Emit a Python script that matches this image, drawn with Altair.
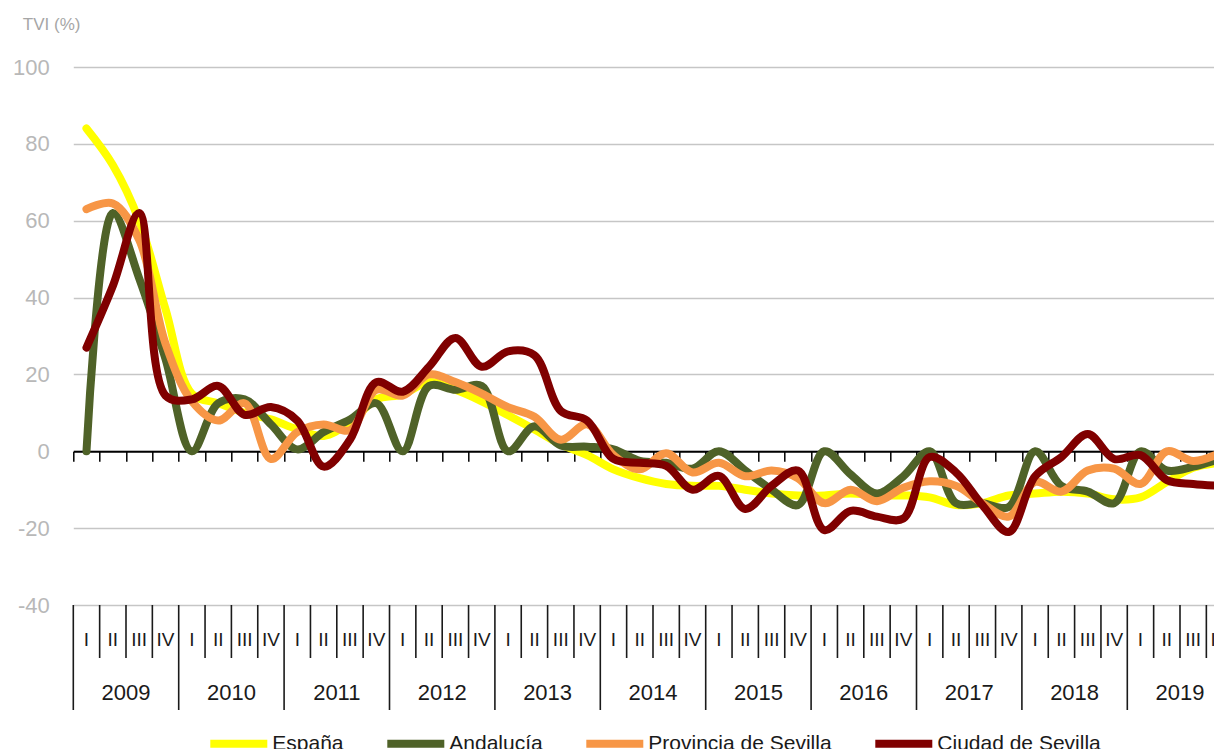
import altair as alt
import pandas as pd

# ---------------- data ----------------
years = [str(y) for y in range(2009, 2020)]
quarter_names = ["I", "II", "III", "IV"]
series_names = ["España", "Andalucía", "Provincia de Sevilla", "Ciudad de Sevilla"]
series_colors = ["#FFFF00", "#4F6228", "#F79646", "#800000"]

espana = [84, 74.5, 60, 37, 15, 12.5, 10, 8.3, 5.7, 4, 7.5, 13.5,
          14.8, 18, 16, 13, 9.4, 5.7, 1.8, -1, -4.7, -7, -8.5, -9,
          -9, -10, -11, -11.5, -11.5, -11, -11.5, -11.5, -12, -14, -13.5, -11.5,
          -11, -10.5, -11, -12.5, -12, -8, -4.3, -3]
andalucia = [0, 62, 45, 24, 0, 12.5, 13.5, 7, 0.5, 5, 8.3, 12.5,
             0, 17, 16, 17, 0, 6.5, 1.5, 1.2, 0.5, -2.5, -3, -4.5,
             0, -5, -10, -14, 0, -6, -11, -6.5, 0, -13.5, -13.5, -14.5,
             0, -9, -10.5, -13.5, 0, -5, -4, -2]
provincia = [63, 64.5, 55, 28, 13, 8, 12.5, -2, 5, 7, 5.5, 16,
             14.5, 20, 18, 15, 11.5, 9, 3, 7, -1, -4.7, -0.5, -5.5,
             -3, -6.5, -5, -7, -13.5, -10, -13, -9.5, -7.8, -9, -13.5, -17,
             -8, -10.5, -5, -4.5, -8.5, 0, -2.5, -0.5]
ciudad = [27, 43, 62, 14.5, 13.5, 17, 9.5, 11.5, 8, -4, 3, 18,
          15.5, 22, 29.5, 22, 26, 25, 10.5, 8, -2, -3, -3.8, -10,
          -6.4, -15, -9, -5, -20.5, -15.5, -17, -17.5, -1.5, -5.5, -14, -21,
          -6.5, -1.5, 4.5, -2, -1, -7.5, -8.5, -9]

# ---------------- tables ----------------
n_q = len(years) * 4
rows = []
for name, vals in zip(series_names, [espana, andalucia, provincia, ciudad]):
    for i, v in enumerate(vals):
        rows.append({"q": i + 0.5, "value": v, "serie": name})
df = pd.DataFrame(rows)

df_qlab = pd.DataFrame({"q": [i + 0.5 for i in range(n_q)],
                        "lab": [quarter_names[i % 4] for i in range(n_q)]})
df_ylab = pd.DataFrame({"c": [4 * j + 2 for j in range(len(years))], "lab": years})
df_bounds = pd.DataFrame({"k": list(range(n_q + 1)),
                          "kind": ["year" if k % 4 == 0 else "quarter" for k in range(n_q + 1)]})

# ---------------- geometry ----------------
QW = 26.35                     # pixels per quarter
W = 1140.7                     # visible plot width (reference is cropped on the right)
H = 538
FONT = "Liberation Sans"

x_scale = alt.Scale(domain=[0, W / QW], nice=False, zero=False)
y_scale = alt.Scale(domain=[-40, 100], nice=False, zero=False)
color_scale = alt.Scale(domain=series_names, range=series_colors)

zero_axis = alt.Axis(orient="bottom", offset=-H * 40 / 140, values=list(range(n_q)),
                     labels=False, grid=False, domain=True, domainColor="#000000",
                     domainWidth=2, ticks=True, tickColor="#000000", tickWidth=1.5,
                     tickSize=10, title=None)
y_axis = alt.Axis(values=list(range(-40, 101, 20)), grid=True, gridColor="#c6c6c6",
                  gridWidth=1.5, domain=False, ticks=False, labelFont=FONT,
                  labelExpr="datum.value + ''",
                  labelFontSize=22, labelColor="#b8b8b8", labelPadding=24,
                  labelOverlap=False, labelFlush=False,
                  title="TVI (%)", titleAngle=0, titleAlign="left", titleBaseline="middle",
                  titleX=-51, titleY=-43, titleFont=FONT, titleFontSize=17,
                  titleFontWeight="normal", titleColor="#a6a6a6")
legend = alt.Legend(orient="none", legendX=133, legendY=644, direction="horizontal",
                    title=None, symbolType="stroke", symbolSize=3249, symbolStrokeWidth=8,
                    labelFont=FONT, labelFontSize=21, labelColor="#1a1a1a",
                    labelOffset=1, columnPadding=27, padding=0, labelLimit=400)

X_ = lambda f: alt.X(f, scale=x_scale, axis=zero_axis)

line_layers = []
for name in series_names:
    line_layers.append(
        alt.Chart(df).transform_filter(alt.datum.serie == name).mark_line(
            interpolate="catmull-rom", strokeWidth=8, strokeCap="round",
            strokeJoin="round", clip=True
        ).encode(
            x=X_("q:Q"),
            y=alt.Y("value:Q", scale=y_scale, axis=y_axis),
            color=alt.Color("serie:N", scale=color_scale, legend=legend),
        )
    )

q_rules = alt.Chart(df_bounds).transform_filter(alt.datum.kind == "quarter").mark_rule(
    color="#1a1a1a", strokeWidth=1.6
).encode(x=X_("k:Q"), y=alt.value(H), y2=alt.value(H + 53))

y_rules = alt.Chart(df_bounds).transform_filter(alt.datum.kind == "year").mark_rule(
    color="#1a1a1a", strokeWidth=1.6
).encode(x=X_("k:Q"), y=alt.value(H), y2=alt.value(H + 105))

q_text = alt.Chart(df_qlab).mark_text(
    font=FONT, fontSize=19, color="#1a1a1a", baseline="middle", align="center"
).encode(x=X_("q:Q"), y=alt.value(H + 35), text="lab:N")

y_text = alt.Chart(df_ylab).mark_text(
    font=FONT, fontSize=22, color="#1a1a1a", baseline="middle", align="center"
).encode(x=X_("c:Q"), y=alt.value(H + 88), text="lab:N")

chart = alt.layer(*line_layers, q_rules, y_rules, q_text, y_text).properties(
    width=W, height=H,
    autosize=alt.AutoSizeParams(type="none"),
    padding={"left": 65.3, "top": 59, "right": 0, "bottom": 160},
).configure(font=FONT).configure_view(stroke=None)

chart.save("out.html", embed_options={"renderer": "svg", "actions": False})
